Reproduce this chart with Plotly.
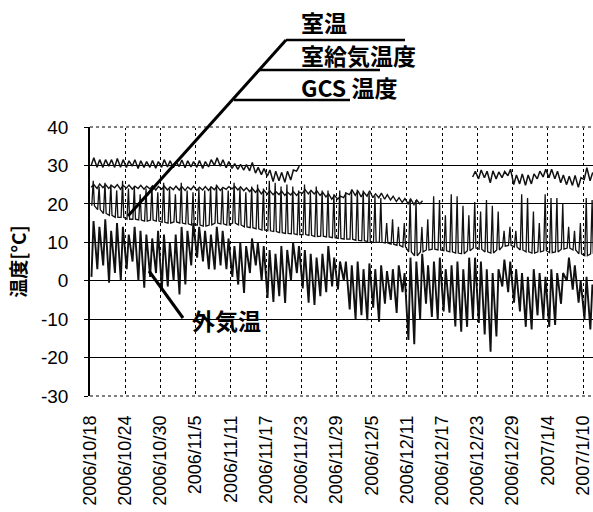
import datetime as dt
import plotly.graph_objects as go

# ---------------- data ----------------
start_date = dt.datetime(2006, 10, 18)

tick_labels = ["2006/10/18", "2006/10/24", "2006/10/30", "2006/11/5", "2006/11/11",
               "2006/11/17", "2006/11/23", "2006/11/29", "2006/12/5", "2006/12/11",
               "2006/12/17", "2006/12/23", "2006/12/29", "2007/1/4", "2007/1/10"]
y_ticks = [-30, -20, -10, 0, 10, 20, 30, 40]
y_tick_labels = ["-30", "-20", "-10", "0", "10", "20", "30", "40"]

# 室温 : daily max / min (gap while not measured)
room_max = ([32, 31.5, 31.5, 31.5, 31.8, 31.5, 31.2, 31.5, 31.2, 31,
             31.3, 31, 31.5, 31.2, 31, 31.4, 31.2, 31, 31.3, 31,
             31.5, 32, 31.5, 31, 30.5, 30.3, 30.2, 30.8, 29.5, 29.2,
             28.8, 28.5, 28.2, 28.5, 28.8, 29.8]
            + [None] * 29 +
            [28.5, 28.8, 28.5, 28.6, 28.3, 28.4, 29, 27.5, 27.8, 27.5,
             27.8, 28.5, 29, 29, 28.5, 27.5, 27.2, 27.4, 26.8, 29.4, 28.2])
room_min = ([30, 29.5, 29.5, 29.8, 29.5, 29.5, 29.5, 29.8, 29.2, 29.5,
             29.5, 29.3, 29.5, 29.6, 29.4, 29.7, 29.4, 29.6, 29.5, 29.2,
             29.6, 30, 29.8, 29.4, 29.2, 29, 28.8, 28.6, 28, 27.6,
             27.2, 25.8, 26, 25.6, 26.2, 28.5]
            + [None] * 29 +
            [27, 26.5, 26.8, 25.5, 26.5, 26.8, 27.3, 25, 25.2, 24.8,
             25.2, 26.5, 27, 26.8, 26.5, 25.5, 25, 24.8, 24.3, 26.3, 26])

# 室給気温度 : daily max / min
supply_max = [25, 25.2, 25, 24.8, 25, 24.8, 24.9, 24.6, 24.8, 24.6,
              24.7, 24.5, 24.6, 24.4, 24.6, 24.5, 24.4, 24.6, 24.3, 24.5,
              24.4, 24.6, 24.3, 24.5, 24.6, 24.4, 24.2, 24, 23.8, 23.5,
              23.4, 23.2, 23.3, 23, 23.2, 23, 23.7, 23.5, 23.4, 23,
              22.6, 22.2, 22, 22.8, 23.6, 23.4, 23, 23.4, 22.6, 22.8,
              22.4, 22, 21.6, 21.4, 21.2, 21, 20.8]
supply_min = [24.3, 24, 24.2, 24, 24.2, 23.8, 24.1, 23.8, 24, 23.8,
              23.9, 23.6, 23.8, 23.6, 23.7, 23.6, 23.5, 23.7, 23.5, 23.6,
              23.5, 23.7, 23.5, 23.8, 23.9, 23.6, 23.4, 23.2, 23, 22.6,
              22.5, 22.4, 22.4, 22.2, 22.3, 22.2, 22.8, 22.6, 22.6, 22.2,
              21.8, 21.2, 21.2, 21.6, 22.4, 22.2, 21.8, 22, 21.6, 21.6,
              21.2, 21, 20.6, 20.4, 20, 19.8, 20]

# GCS温度 : daily base level and daily peak
gcs_base = [19.5, 18.5, 17.5, 17, 16.5, 16.5, 16, 16, 15.8, 15.5,
            15.8, 15.5, 15.2, 15, 15.3, 15, 14.8, 14.5, 14.5, 14.2,
            14.5, 15, 14.8, 14.5, 15, 14.5, 14, 13.8, 13.5, 13.2,
            13, 12.8, 12.5, 12.3, 12.2, 12, 12, 11.8, 11.5, 11.6,
            11.4, 11.2, 11, 10.8, 10.8, 10.5, 10.4, 10.2, 10, 10,
            9.8, 9.5, 9.2, 8.8, 7.5, 6.5, 7.5, 8, 8.2, 8,
            7.8, 7.5, 7.2, 7, 7.8, 8.5, 8.2, 7.5, 7.2, 8,
            9, 9.2, 8.8, 8, 7.5, 7.2, 7.5, 7.8, 7.3, 7.5,
            8.2, 8.5, 8, 7, 6.5, 7]
gcs_peak = [26, 24.5, 25.5, 25, 23.5, 26, 24, 24.5, 22.5, 24,
            24.5, 23, 25.5, 24, 22.5, 25.5, 23.5, 23, 24, 23.5,
            24.5, 25, 24, 23.5, 25.5, 24, 23, 24.5, 25, 24,
            26, 25.5, 24.5, 25, 24.5, 23.5, 25, 23, 24.5, 23.5,
            23.5, 22.5, 23.5, 23, 23.7, 23.7, 23.5, 22.8, 22, 21.5,
            15, 16, 14, 15, 21.3, 21, 14, 16, 22, 21,
            17, 22.5, 22, 19.5, 17, 20.5, 18, 21, 19.5, 18,
            13, 14, 13, 22.5, 21.5, 18, 15, 22.5, 21.5, 21.5,
            20, 14, 13, 15, 21.5, 21]

# 外気温 : daily max / min
out_max = [15.5, 14, 16, 13, 15, 14, 12, 14, 13, 12,
           11, 13, 12, 10, 12, 14, 13, 15, 14, 13,
           12, 14, 13, 11, 9, 10, 9, 11, 10, 9,
           8, 7, 9, 8, 10, 9, 8, 7, 6, 7,
           9, 6, 5, 5, 4, 5, 3, 4.5, 3, 4,
           2.5, 3, 4, 2, 6, 5, 7, 4, 5, 6,
           3, 4, 5, 3, 6, 6, 5, 3, 2, 3,
           5.5, 5, 3, 2, 1, 3, 2, 1, 3, 2,
           2, 6, 4, 0, 1, -1]
out_min = [1, 3, 4, -0.5, 2, 0, 3, 5, 0, -1.8,
           1, 2, -2.3, -1.5, 0, -3.6, -1, 4, 6, 5,
           3, 2.9, 4, 3, 1, -1, -3.2, 2, 4, 0,
           -4.5, -5.5, -4, -5.8, 0, 2, -2, -5.7, -6.3, -4,
           -3, -1.5, -2.3, 0, -7.5, -10, -9, -10.3, -7, -10.7,
           -6, -5, -8.4, -3, -15.4, -16.5, -10, -6, -9.4, -10.2,
           -8, -8.3, -11.9, -13.3, -12, -10, -11, -14, -18.5, -14.5,
           -1.5, -3, -5.7, -8, -12, -12.7, -9, -10, -12, -11.5,
           -6, 0, -2.3, -5.7, -10, -12.7]


def build(parts):
    """parts: list of (fraction of day, daily array) in time order within a day."""
    n = len(parts[0][1])
    xs, ys = [], []
    for d in range(n):
        for frac, arr in parts:
            xs.append(start_date + dt.timedelta(days=d + frac))
            ys.append(arr[d])
    return xs, ys


out_x, out_y = build([(0.25, out_min), (0.6, out_max)])
gcs_x, gcs_y = build([(0.3, gcs_base), (0.55, gcs_peak), (0.75, gcs_base)])
sup_x, sup_y = build([(0.2, supply_min), (0.65, supply_max)])
room_x, room_y = build([(0.2, room_min), (0.65, room_max)])

tick_vals = [start_date + dt.timedelta(days=6 * i) for i in range(len(tick_labels))]

# ---------------- figure ----------------
fig = go.Figure()
fig.add_trace(go.Scatter(x=out_x, y=out_y, mode="lines", name="外気温",
                         line=dict(color="#111111", width=1.9)))
fig.add_trace(go.Scatter(x=gcs_x, y=gcs_y, mode="lines", name="GCS 温度",
                         line=dict(color="#111111", width=1.3)))
fig.add_trace(go.Scatter(x=sup_x, y=sup_y, mode="lines", name="室給気温度",
                         line=dict(color="#111111", width=1.4)))
fig.add_trace(go.Scatter(x=room_x, y=room_y, mode="lines", name="室温",
                         connectgaps=False, line=dict(color="#111111", width=1.5)))

W0, PW, H0, PH = 90, 503, 127, 269  # plot area in pixels (left, width, top, height)


def px(x):
    return (x - W0) / PW


def py(y):
    return (H0 + PH - y) / PH


fig.update_layout(
    width=593, height=512, autosize=False,
    margin=dict(l=W0, r=593 - W0 - PW, t=H0, b=512 - H0 - PH, pad=0),
    paper_bgcolor="white", plot_bgcolor="white",
    showlegend=False,
    font=dict(family="Liberation Sans, Arial, sans-serif", color="black"),
    xaxis=dict(type="date", automargin=False,
               range=[start_date, start_date + dt.timedelta(days=85.7)],
               tickmode="array", tickvals=tick_vals, ticktext=tick_labels,
               tickangle=-90, tickfont=dict(size=18, color="black"),
               showgrid=True, gridcolor="black", griddash="dot", gridwidth=1,
               showline=False, zeroline=False, ticks="", ticklabelstandoff=15),
    yaxis=dict(range=[-30, 40], tickmode="array", automargin=False,
               tickvals=y_ticks, ticktext=y_tick_labels,
               tickfont=dict(size=19, color="black"),
               showgrid=True, gridcolor="black", gridwidth=1,
               zeroline=False, showline=True, linecolor="black", linewidth=1.5,
               ticks="outside", ticklen=4, tickcolor="black", ticklabelstandoff=12,
               title=dict(text="温度[°C]", standoff=9,
                          font=dict(family="Noto Sans CJK JP", size=19, weight="bold"))),
)

shapes = []
# dotted top / bottom border of the plot area
for yv in (0, 1):
    shapes.append(dict(type="line", xref="paper", yref="paper", x0=0, x1=1, y0=yv, y1=yv,
                       line=dict(color="white", width=2)))
    shapes.append(dict(type="line", xref="paper", yref="paper", x0=0, x1=1, y0=yv, y1=yv,
                       line=dict(color="black", width=1, dash="dot")))
# callout lines
lw = 3
shapes += [
    dict(type="line", xref="paper", yref="paper", x0=px(286), y0=py(40), x1=px(128), y1=py(216),
         line=dict(color="black", width=lw)),
    dict(type="line", xref="paper", yref="paper", x0=px(286), y0=py(40), x1=px(405), y1=py(40),
         line=dict(color="black", width=2.5)),
    dict(type="line", xref="paper", yref="paper", x0=px(259), y0=py(70), x1=px(380), y1=py(70),
         line=dict(color="black", width=2.5)),
    dict(type="line", xref="paper", yref="paper", x0=px(234), y0=py(100), x1=px(350), y1=py(100),
         line=dict(color="black", width=2.5)),
    dict(type="line", xref="paper", yref="paper", x0=px(149), y0=py(271), x1=px(183), y1=py(318),
         line=dict(color="black", width=lw)),
]
fig.update_layout(shapes=shapes)

lab_font = dict(family="Noto Sans CJK JP", size=23, color="black", weight="bold")
for text, xx, yy in [("室温", 299, 22), ("室給気温度", 299, 55), ("GCS 温度", 299, 87),
                     ("外気温", 190, 320)]:
    fig.add_annotation(text=text, xref="paper", yref="paper", x=px(xx), y=py(yy),
                       xanchor="left", yanchor="middle", showarrow=False, font=lab_font)

# the page body has a default 8px margin; remove it so the figure sits at the window origin
fig.write_html("out.html", config={"displayModeBar": False},
               post_script="document.body.style.margin='0px';")
